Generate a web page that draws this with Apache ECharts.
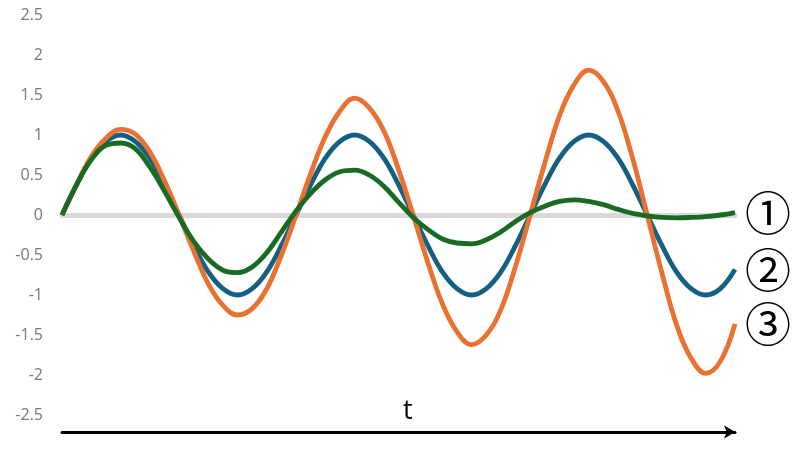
<!DOCTYPE html>
<html>
<head>
<meta charset="utf-8">
<script src="https://cdn.jsdelivr.net/npm/echarts@6/dist/echarts.min.js"></script>
<style>
  html, body { margin: 0; padding: 0; background: #fff; }
  #main { width: 800px; height: 453px; }
</style>
</head>
<body>
<div id="main"></div>
<script>
// sample steps along t (1/16 period each)
var tSteps = [0, 1, 2, 3, 4, 5, 6, 7, 8, 9, 10, 11, 12, 13, 14, 15,
  16, 17, 18, 19, 20, 21, 22, 23, 24, 25, 26, 27, 28, 29, 30, 31,
  32, 33, 34, 35, 36, 37, 38, 39, 40, 41, 42, 43, 44, 45, 46];

// values
var damped = [0, 0.38, 0.69, 0.87, 0.90, 0.83, 0.60, 0.30, -0.03, -0.33, -0.55, -0.69, -0.72, -0.65, -0.47, -0.21,
  0.05, 0.27, 0.44, 0.54, 0.56, 0.50, 0.36, 0.16, -0.03, -0.18, -0.30, -0.35, -0.36, -0.31, -0.21, -0.08,
  0.03, 0.11, 0.17, 0.19, 0.17, 0.13, 0.07, 0.02, -0.01, -0.03, -0.035, -0.03, -0.02, 0.0, 0.03];
var steady = [0, 0.38, 0.71, 0.92, 1.0, 0.92, 0.71, 0.38, 0, -0.38, -0.71, -0.92, -1.0, -0.92, -0.71, -0.38,
  0, 0.38, 0.71, 0.92, 1.0, 0.92, 0.71, 0.38, 0, -0.38, -0.71, -0.92, -1.0, -0.92, -0.71, -0.38,
  0, 0.38, 0.71, 0.92, 1.0, 0.92, 0.71, 0.38, 0, -0.38, -0.71, -0.92, -1.0, -0.92, -0.68];
var growing = [0, 0.38, 0.73, 0.96, 1.07, 1.01, 0.79, 0.43, 0, -0.45, -0.86, -1.13, -1.25, -1.17, -0.92, -0.50,
  0, 0.52, 0.98, 1.30, 1.46, 1.34, 1.05, 0.57, 0, -0.59, -1.11, -1.46, -1.62, -1.50, -1.18, -0.64,
  0, 0.65, 1.24, 1.63, 1.81, 1.67, 1.30, 0.71, 0, -0.72, -1.37, -1.79, -1.98, -1.83, -1.36];

var yTicks = [-2.5, -2, -1.5, -1, -0.5, 0, 0.5, 1, 1.5, 2, 2.5];
var curveLabels = ['①', '②', '③'];

var myChart = echarts.init(document.getElementById('main'));

function curve(name, data, color, label, z) {
  return {
    name: name,
    type: 'line',
    data: data,
    smooth: 0.4,
    symbol: 'none',
    z: z,
    lineStyle: { color: color, width: 4.8 },
    endLabel: {
      show: true,
      formatter: label,
      distance: 10,
      color: '#000',
      fontFamily: 'Noto Sans CJK JP',
      fontSize: 46
    }
  };
}

myChart.setOption({
  animation: false,
  grid: { left: 62, right: 65, top: 15, bottom: 38 },
  xAxis: [
    {
      type: 'category',
      data: tSteps,
      boundaryGap: false,
      axisLine: { onZero: true, lineStyle: { color: '#d9d9d9', width: 5 } },
      axisTick: { show: false },
      axisLabel: { show: false }
    },
    {
      type: 'category',
      data: tSteps,
      boundaryGap: false,
      position: 'bottom',
      offset: 17,
      axisLine: {
        onZero: false,
        symbol: ['none', 'arrow'],
        symbolSize: [10, 11],
        lineStyle: { color: '#000', width: 3 }
      },
      axisTick: { show: false },
      axisLabel: { show: false }
    }
  ],
  yAxis: {
    type: 'value',
    min: yTicks[0],
    max: yTicks[yTicks.length - 1],
    interval: 0.5,
    axisLine: { show: false },
    axisTick: { show: false },
    splitLine: { show: false },
    axisLabel: {
      margin: 19,
      color: '#767676',
      fontFamily: 'Open Sans',
      fontSize: 16
    }
  },
  graphic: [
    {
      type: 'text',
      left: 403,
      top: 398,
      style: { text: 't', fill: '#000', font: '27px "Open Sans"' }
    }
  ],
  series: [
    curve('steady', steady, '#156082', curveLabels[1], 2),
    curve('growing', growing, '#e97132', curveLabels[2], 3),
    curve('damped', damped, '#196b24', curveLabels[0], 4)
  ]
});
</script>
</body>
</html>
